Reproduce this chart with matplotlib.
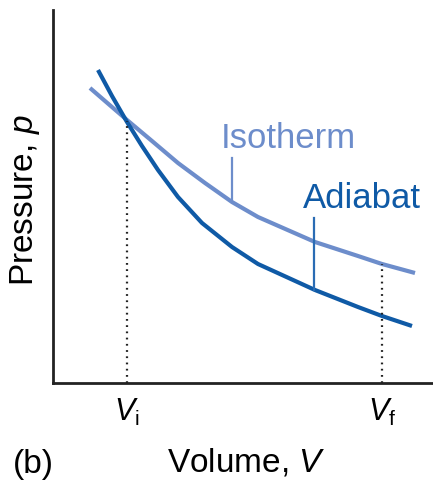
import matplotlib
matplotlib.use('Agg')
import matplotlib.pyplot as plt

plt.rcParams['font.family'] = ['Liberation Sans', 'DejaVu Sans']
plt.rcParams['mathtext.fontset'] = 'custom'
plt.rcParams['mathtext.rm'] = 'Liberation Sans'
plt.rcParams['mathtext.it'] = 'Liberation Sans:italic'

# values (arbitrary units)
ISO_V = [0.37, 0.52, 0.74, 0.99, 1.25, 1.52, 1.79, 2.05, 2.62, 3.05, 3.29, 3.62]
ISO_P = [2.95, 2.82, 2.63, 2.42, 2.20, 2.00, 1.81, 1.66, 1.41, 1.27, 1.19, 1.10]
ADI_V = [0.45, 0.59, 0.74, 0.89, 1.05, 1.25, 1.49, 1.79, 2.05, 2.62, 3.05, 3.29, 3.59]
ADI_P = [3.13, 2.87, 2.61, 2.37, 2.13, 1.86, 1.60, 1.36, 1.19, 0.93, 0.76, 0.67, 0.57]

V_I, V_F = 0.74, 3.29
P_I, P_F = 2.62, 1.19
TICK_LABELS = [r'$V_\mathrm{i}$', r'$V_\mathrm{f}$']

ISO_COLOR = '#6d8dcb'
ADI_COLOR = '#0f5aa6'

fig = plt.figure(figsize=(4.33, 4.82), dpi=100)
ax = fig.add_axes([53 / 433, 1 - 383 / 482, 380 / 433, 373 / 482])

ax.plot(ISO_V, ISO_P, color=ISO_COLOR, lw=3, solid_capstyle='butt',
        solid_joinstyle='round')
ax.plot(ADI_V, ADI_P, color=ADI_COLOR, lw=3, solid_capstyle='butt',
        solid_joinstyle='round')

# dotted drop lines to the volume axis
ax.plot([V_I, V_I], [0, P_I], color='#222222', lw=1.6, ls=(0, (0.8, 2.0)))
ax.plot([V_F, V_F], [0, P_F], color='#222222', lw=1.6, ls=(0, (0.8, 2.0)))

# curve labels with leader lines
ax.plot([1.79, 1.79], [2.25, 1.81], color=ISO_COLOR, lw=1.6)
ax.text(1.68, 2.35, 'Isotherm', color=ISO_COLOR, fontsize=25, va='baseline')
ax.plot([2.61, 2.61], [1.65, 0.93], color='#2a6cb4', lw=1.6)
ax.text(2.50, 1.75, 'Adiabat', color=ADI_COLOR, fontsize=25, va='baseline')

ax.set_xlim(0, 3.8)
ax.set_ylim(0, 3.73)
for side in ['top', 'right']:
    ax.spines[side].set_visible(False)
for side in ['left', 'bottom']:
    ax.spines[side].set_linewidth(2)
    ax.spines[side].set_color('#222222')

ax.set_xticks([V_I, V_F])
ax.set_xticklabels(TICK_LABELS, fontsize=22)
ax.tick_params(axis='x', length=0, pad=10)
ax.set_yticks([])

ax.set_xlabel('Volume, $V$', fontsize=24)
ax.xaxis.set_label_coords(0.508, -0.170)
ax.set_ylabel('Pressure, $p$', fontsize=24)
ax.yaxis.set_label_coords(-0.028, 0.49)

fig.text(13 / 433, 1 - 473 / 482, '(b)', fontsize=24, va='baseline')

fig.savefig('out.png', dpi=100)
